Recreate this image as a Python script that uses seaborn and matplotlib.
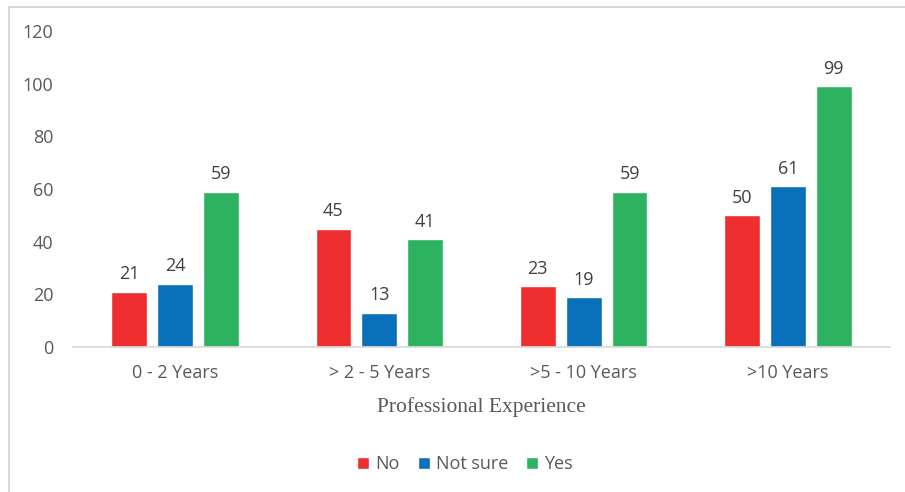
import matplotlib
matplotlib.use("Agg")
import matplotlib.pyplot as plt
from matplotlib.lines import Line2D
import seaborn as sns
import pandas as pd

categories = ["0 - 2 Years", "> 2 - 5 Years", ">5 - 10 Years", ">10 Years"]
series_names = ["No", "Not sure", "Yes"]
no_vals = [21, 45, 23, 50]
not_sure_vals = [24, 13, 19, 61]
yes_vals = [59, 41, 59, 99]
y_ticks = [0, 20, 40, 60, 80, 100, 120]

colors = ["#EE2E2F", "#0A70BA", "#2DB35F"]

rows = []
for name, vals in zip(series_names, [no_vals, not_sure_vals, yes_vals]):
    for cat, v in zip(categories, vals):
        rows.append({"experience": cat, "count": v, "answer": name})
df = pd.DataFrame(rows)

sns.set_theme(style="white")
plt.rcParams["font.family"] = ["Open Sans", "DejaVu Sans"]

fig = plt.figure(figsize=(9.05, 4.92), dpi=100)
ax = fig.add_axes([0.0807, 0.2947, 0.9027, 0.6423])

sns.barplot(data=df, x="experience", y="count", hue="answer",
            hue_order=series_names, order=categories, palette=colors,
            width=0.675, gap=0.22, ax=ax, legend=True, saturation=1)

text_gray = "#595959"
for cont in ax.containers:
    ax.bar_label(cont, padding=6, fontsize=13, color="#404040")

ax.set_ylim(0, 120)
ax.set_xlim(-0.5, 3.5)
ax.set_yticks(y_ticks)
ax.tick_params(axis="y", length=0, pad=14, labelsize=13, labelcolor=text_gray)
ax.tick_params(axis="x", length=0, pad=12, labelsize=13, labelcolor=text_gray)
ax.set_ylabel("")
ax.set_xlabel("Professional Experience", family="Liberation Serif",
              fontsize=15.5, color=text_gray, labelpad=11)

for side in ["left", "right", "top"]:
    ax.spines[side].set_visible(False)
ax.spines["bottom"].set_color("#D9D9D9")
ax.spines["bottom"].set_linewidth(1.2)

handles, labels = ax.get_legend_handles_labels()
ax.legend(handles, labels, loc="center", bbox_to_anchor=(0.514, 0.056),
          bbox_transform=fig.transFigure, ncol=3, frameon=False,
          handlelength=0.65, handleheight=0.65, handletextpad=0.35,
          columnspacing=1.0, fontsize=13, labelcolor=text_gray)

# outer chart frame (top and left edges)
fig.add_artist(Line2D([9 / 905, 9 / 905], [0, 1 - 7 / 492],
                      transform=fig.transFigure, color="#D9D9D9", lw=1.5))
fig.add_artist(Line2D([9 / 905, 1], [1 - 7 / 492, 1 - 7 / 492],
                      transform=fig.transFigure, color="#D9D9D9", lw=1.5))

fig.savefig("out.png", dpi=100)
